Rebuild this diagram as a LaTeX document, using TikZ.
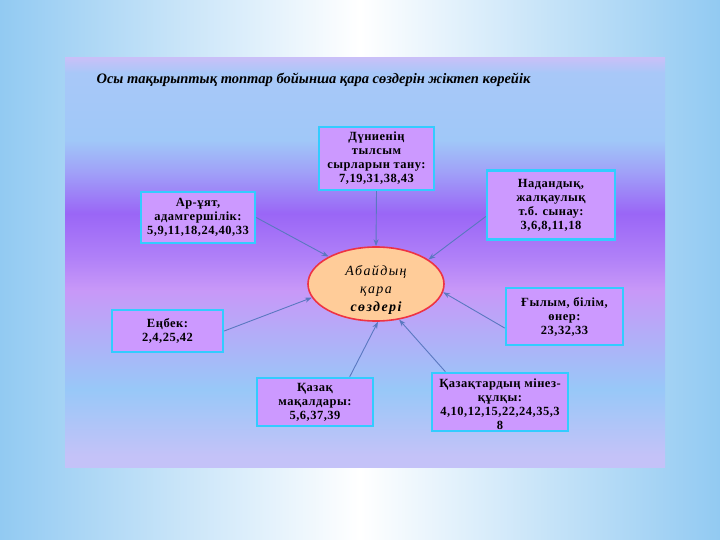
\documentclass[tikz,border=0pt]{standalone}
\usepackage{fontspec}
\setmainfont{Liberation Serif}
\usetikzlibrary{arrows.meta,shapes.geometric}
\definecolor{skyL}{HTML}{92CAF2}
\definecolor{pA}{HTML}{C4C2F8}
\definecolor{pB}{HTML}{98C8F8}
\definecolor{pC}{HTML}{B0B0F8}
\definecolor{pD}{HTML}{C898F8}
\definecolor{pE}{HTML}{B080F8}
\definecolor{pF}{HTML}{9A66F6}
\definecolor{pG}{HTML}{A0A0F8}
\definecolor{pH}{HTML}{A0C8F8}
\definecolor{pI}{HTML}{A8C8F8}
\definecolor{pJ}{HTML}{C8C0F8}
\definecolor{boxfill}{HTML}{CC99FF}
\definecolor{boxline}{HTML}{33CCFF}
\definecolor{arrowc}{HTML}{5A78C0}
\definecolor{ellfill}{HTML}{FFCC99}
\definecolor{ellline}{HTML}{EE3344}
\pgfdeclareverticalshading{panelshade}{100bp}{%
color(0bp)=(pA); color(25bp)=(pA); color(26.35bp)=(pA);
color(34.5bp)=(pB); color(40.5bp)=(pC); color(46.65bp)=(pD);
color(50.65bp)=(pE); color(56bp)=(pF); color(61bp)=(pG);
color(65bp)=(pH); color(73.15bp)=(pI); color(75bp)=(pJ); color(100bp)=(pJ)}
\tikzset{
  box/.style={draw=boxline, line width=2.4pt, fill=boxfill,
    font=\bfseries\fontsize{12.5}{14}\selectfont\addfontfeature{LetterSpace=4},
    align=center, inner sep=1pt},
  conn/.style={draw=arrowc, line width=0.9pt, -{Stealth[length=7pt,width=5pt]}},
  centre/.style={ellipse, draw=ellline, line width=1.6pt, fill=ellfill,
    minimum width=136pt, minimum height=74pt, inner sep=0pt,
    font=\itshape\fontsize{14}{18}\selectfont\addfontfeature{LetterSpace=10}}
}
\begin{document}
\begin{tikzpicture}[x=1pt,y=-1pt]
\useasboundingbox (0,0) rectangle (720,540);
\shade[left color=skyL, right color=skyL, middle color=white] (0,0) rectangle (720,540);
\shade[shading=panelshade] (65,58) rectangle (665,467);
\node[anchor=west, font=\bfseries\itshape\fontsize{14.5}{16}\selectfont] (title) at (93,80)
  {Осы тақырыптық топтар бойынша қара сөздерін жіктеп көрейік};
\node[centre] (c) at (376,284)
  {\makebox[0pt]{\raisebox{-9pt}[0pt][0pt]{\begin{tabular}{@{}c@{}}Абайдың\\қара\\\textbf{сөздері}\end{tabular}}}};
\node[box, minimum width=115pt, minimum height=63pt] (d) at (376.5,158.5)
  {Дүниенің\\тылсым\\сырларын тану:\\7,19,31,38,43};
\node[box, minimum width=114pt, minimum height=51pt] (a) at (198,217.5)
  {Ар-ұят,\\адамгершілік:\\5,9,11,18,24,40,33};
\node[box, minimum width=128pt, minimum height=69pt] (n) at (551,205)
  {Надандық,\\жалқаулық\\т.б. сынау:\\3,6,8,11,18};
\node[box, minimum width=117pt, minimum height=57pt] (g) at (564.5,316.5)
  {Ғылым, білім,\\өнер:\\23,32,33};
\node[box, minimum width=111pt, minimum height=42pt] (e) at (167.5,331)
  {Еңбек:\\2,4,25,42};
\node[box, minimum width=116pt, minimum height=48pt] (q) at (315,402)
  {Қазақ\\мақалдары:\\5,6,37,39};
\node[box, minimum width=136pt, minimum height=58pt] (k) at (500,402)
  {\rule{0pt}{14pt}Қазақтардың мінез-\\құлқы:\\4,10,12,15,22,24,35,3\\8};
\draw[conn] (d.south) -- (c.90);
\draw[conn] (a.east) -- (c.150);
\draw[conn] (n.190) -- (c.25);
\draw[conn] (g.191) -- (c.-7);
\draw[conn] (e.east) -- (c.192);
\draw[conn] (q.36) -- (c.-87);
\draw[conn] (k.151) -- (c.-57);
\end{tikzpicture}
\end{document}
